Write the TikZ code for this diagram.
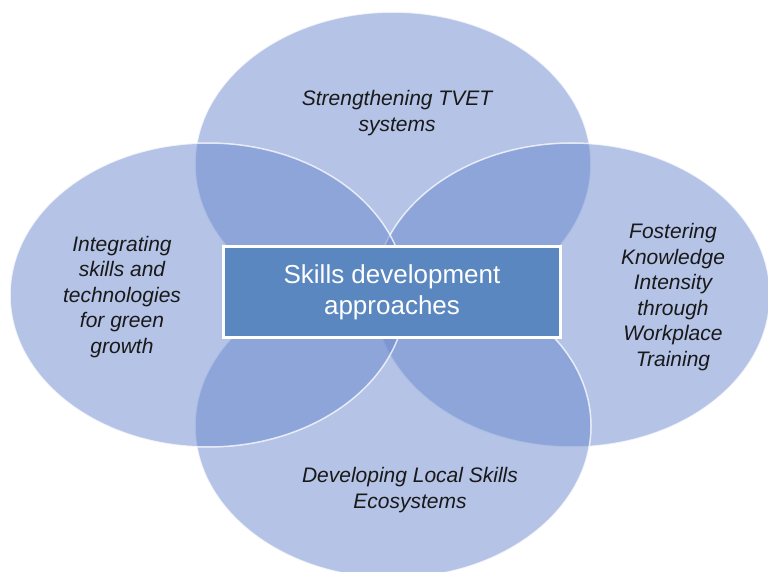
\documentclass[tikz,border=0pt]{standalone}
\usepackage{fontspec}
\setmainfont{Liberation Sans}
\usetikzlibrary{shapes.geometric}
\definecolor{petal}{RGB}{105,135,205}
\definecolor{boxblue}{RGB}{90,135,192}
\definecolor{labeltext}{RGB}{25,25,25}
\tikzset{
  petal/.style={ellipse, draw=white, draw opacity=0.75, line width=1.5pt,
    fill=petal, fill opacity=0.5, minimum width=396pt, minimum height=304pt, inner sep=0pt},
  petallabel/.style={text=labeltext, font=\fontsize{21}{25.5}\selectfont\itshape, align=center},
  centrebox/.style={rectangle, draw=white, line width=3pt, fill=boxblue, text=white,
    minimum width=337pt, minimum height=91pt, align=center,
    font=\fontsize{26}{31}\selectfont}
}
\begin{document}
\begin{tikzpicture}[x=1pt,y=-1pt]
\useasboundingbox (0,0) rectangle (768,572);
\clip (0,0) rectangle (768,572);
\node[petal] (top) at (393,164) {};
\node[petal] (right) at (572,295) {};
\node[petal] (bottom) at (393,426) {};
\node[petal] (left) at (208,295) {};
\node[petallabel] (toplabel) at (397,113) {Strengthening TVET\\systems};
\node[petallabel] (leftlabel) at (122,297) {Integrating\\skills and\\technologies\\for green\\growth};
\node[petallabel] (rightlabel) at (673,297) {Fostering\\Knowledge\\Intensity\\through\\Workplace\\Training};
\node[petallabel] (bottomlabel) at (410,490) {Developing Local Skills\\Ecosystems};
\node[centrebox] (centre) at (392,292) {Skills development\\approaches};
\end{tikzpicture}
\end{document}
